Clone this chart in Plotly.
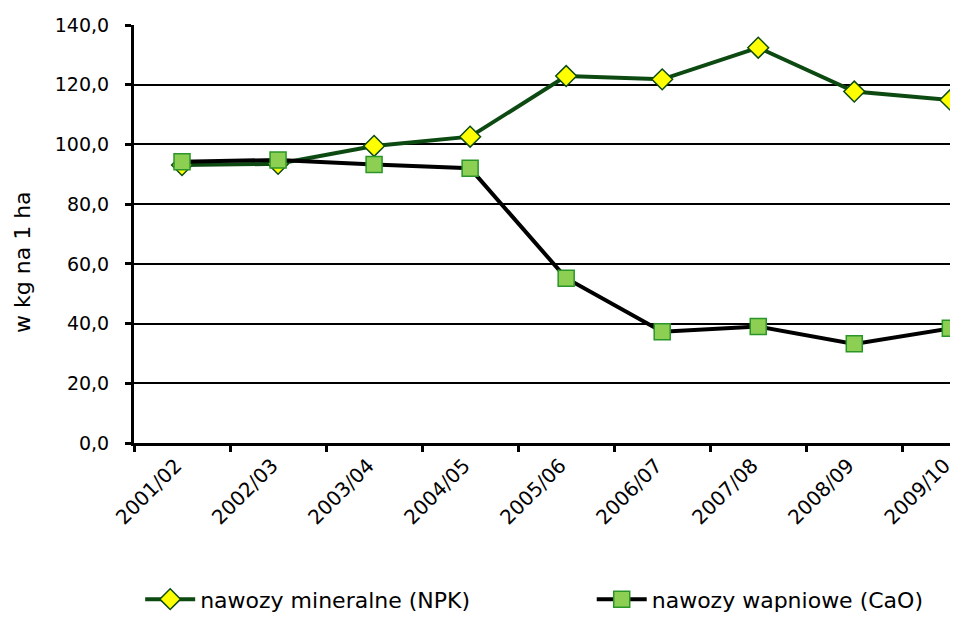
import plotly.graph_objects as go

# Data
seasons = ["2001/02", "2002/03", "2003/04", "2004/05", "2005/06",
           "2006/07", "2007/08", "2008/09", "2009/10"]
npk = [93.1, 93.5, 99.5, 102.6, 122.9, 121.8, 132.4, 117.7, 114.9]
cao = [94.2, 94.8, 93.3, 92.0, 55.2, 37.3, 39.0, 33.2, 38.4]
y_ticks = [0, 20, 40, 60, 80, 100, 120, 140]
y_tick_text = ["0,0", "20,0", "40,0", "60,0", "80,0", "100,0", "120,0", "140,0"]

FONT = "DejaVu Sans, Arial, sans-serif"

fig = go.Figure()

fig.add_trace(go.Scatter(
    x=seasons, y=npk, name="nawozy mineralne (NPK)",
    mode="lines+markers",
    line=dict(color="#0d4a12", width=4),
    marker=dict(symbol="diamond", size=16, color="#ffff00",
                line=dict(color="#0d4a12", width=1.5)),
    cliponaxis=False,
    legend="legend",
))

fig.add_trace(go.Scatter(
    x=seasons, y=cao, name="nawozy wapniowe (CaO)",
    mode="lines+markers",
    line=dict(color="#000000", width=4),
    marker=dict(symbol="square", size=16, color="#8ccf52",
                line=dict(color="#2a962a", width=1.5)),
    cliponaxis=False,
    legend="legend2",
))

# two separate legends so the entries can sit far apart on one row
legend_style = dict(
    orientation="h", xanchor="left", y=-0.374, yanchor="middle",
    font=dict(size=22), itemwidth=50, bgcolor="rgba(0,0,0,0)",
)

fig.update_layout(
    # the page body adds an 8px margin, so the figure is a bit smaller
    width=950, height=609,
    margin=dict(l=126, r=0, t=17, b=174, autoexpand=False),
    paper_bgcolor="white",
    plot_bgcolor="white",
    font=dict(family=FONT, size=19, color="#000000"),
    showlegend=True,
    legend=dict(x=0.0075, **legend_style),
    legend2=dict(x=0.5555, **legend_style),
    xaxis=dict(
        type="category",
        range=[-0.5, 8.08],
        automargin=False,
        showline=True, linecolor="#000000", linewidth=3,
        ticks="outside", tickson="boundaries", ticklen=6, tickwidth=3,
        tickcolor="#000000", tickangle=-45,
        ticklabelshift=-6,
        tickfont=dict(size=20),
        showgrid=False,
    ),
    yaxis=dict(
        range=[0, 140],
        automargin=False,
        tickvals=y_ticks, ticktext=y_tick_text,
        showline=True, linecolor="#000000", linewidth=3,
        ticks="outside", ticklen=6, tickwidth=3, tickcolor="#000000",
        ticklabelstandoff=12,
        tickfont=dict(size=19),
        showgrid=True, gridcolor="#000000", gridwidth=2,
        zeroline=False,
    ),
    annotations=[dict(
        text="w kg na 1 ha", textangle=-90,
        xref="paper", yref="paper", x=-0.136, y=0.433,
        xanchor="center", yanchor="middle", showarrow=False,
        font=dict(size=22),
    )],
)

fig.write_html("out.html")
